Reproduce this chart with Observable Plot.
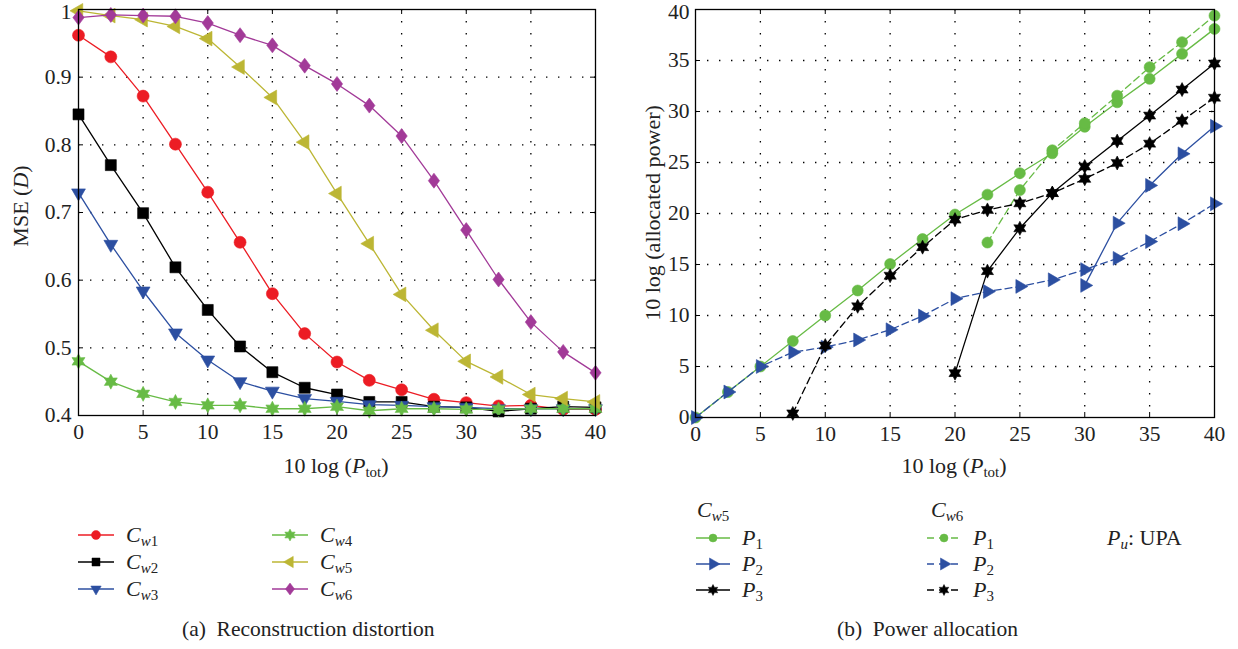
<!DOCTYPE html>
<html><head><meta charset="utf-8">
<script src="https://cdn.jsdelivr.net/npm/d3@7"></script>
<script src="https://cdn.jsdelivr.net/npm/@observablehq/plot@0.6"></script>
<style>
body{margin:0;background:#fff;font-family:"Liberation Serif","DejaVu Serif",serif;color:#222;}
#page{position:relative;width:1238px;height:649px;overflow:hidden;background:#fff;}
svg text{font-family:"Liberation Serif","DejaVu Serif",serif;}
.abs{position:absolute;white-space:nowrap;}
.row{position:absolute;display:flex;align-items:center;height:24px;white-space:nowrap;font-size:22px;}
.row svg{margin-right:12px;flex:none;}
sub{font-size:68%;vertical-align:-0.3em;line-height:0;}
.lab{font-size:22px;}
.cap{font-size:21.5px;}
</style></head><body><div id="page">
<div id="left" class="abs" style="left:0;top:0"></div>
<div id="right" class="abs" style="left:620px;top:0"></div>
</div>
<script>
// ---------- data ----------
const xVals = [0,2.5,5,7.5,10,12.5,15,17.5,20,22.5,25,27.5,30,32.5,35,37.5,40];
const xTicks = [0,5,10,15,20,25,30,35,40];
const yTicksA = [0.4,0.5,0.6,0.7,0.8,0.9,1];
const yTicksB = [0,5,10,15,20,25,30,35,40];

// (a) reconstruction distortion
const cw1 = [0.962,0.930,0.872,0.801,0.730,0.656,0.580,0.521,0.479,0.452,0.438,0.424,0.419,0.414,0.415,0.409,0.409];
const cw2 = [0.845,0.770,0.699,0.619,0.556,0.502,0.464,0.441,0.431,0.420,0.420,0.413,0.412,0.406,0.410,0.413,0.412];
const cw3 = [0.729,0.653,0.584,0.522,0.482,0.450,0.436,0.425,0.421,0.416,0.415,0.413,0.412,0.410,0.410,0.410,0.410];
const cw4 = [0.480,0.450,0.432,0.420,0.415,0.415,0.410,0.410,0.413,0.407,0.410,0.410,0.409,0.409,0.410,0.410,0.410];
const cw5 = [0.998,0.991,0.985,0.975,0.957,0.915,0.870,0.804,0.728,0.654,0.579,0.526,0.480,0.457,0.431,0.425,0.420];
const cw6 = [0.988,0.992,0.991,0.990,0.980,0.962,0.947,0.917,0.890,0.858,0.813,0.747,0.674,0.601,0.538,0.494,0.463];

// (b) power allocation (dB), null = not allocated
const p1cw5 = [0,2.5,5,7.5,10,12.45,15.05,17.5,19.9,21.85,23.95,25.9,28.5,30.9,33.2,35.65,38.1];
const p2cw5 = [null,null,null,null,null,null,null,null,null,null,null,null,12.95,19.05,22.75,25.85,28.55];
const p3cw5 = [null,null,null,null,null,null,null,null,4.35,14.35,18.55,22.0,24.6,27.1,29.6,32.15,34.7];
const p1cw6 = [null,null,null,null,null,null,null,null,null,17.15,22.3,26.2,28.85,31.55,34.35,36.8,39.4];
const p2cw6 = [0,2.5,5,6.4,6.9,7.6,8.6,9.95,11.65,12.35,12.85,13.5,14.5,15.6,17.25,19.0,20.95];
const p3cw6 = [null,null,null,0.4,7.05,10.9,13.9,16.7,19.4,20.35,21.0,22.0,23.4,24.95,26.85,29.1,31.35];

const RED="#ec1c24", BLACK="#000000", BLUE="#2c4fa1", GREEN="#67bb45", OLIVE="#bcb634", PURPLE="#a23a98";

// ---------- custom marker symbols ----------
function sym(kind, s){
  return {draw(ctx){
    const k=0.8660254;
    if(kind==="circle"){ctx.moveTo(s,0);ctx.arc(0,0,s,0,2*Math.PI);}
    else if(kind==="square"){ctx.rect(-s,-s,2*s,2*s);}
    else if(kind==="tdown"){ctx.moveTo(0,s);ctx.lineTo(-k*s,-0.5*s);ctx.lineTo(k*s,-0.5*s);}
    else if(kind==="tleft"){ctx.moveTo(-s,0);ctx.lineTo(0.5*s,-k*s);ctx.lineTo(0.5*s,k*s);}
    else if(kind==="tright"){ctx.moveTo(s,0);ctx.lineTo(-0.5*s,-k*s);ctx.lineTo(-0.5*s,k*s);}
    else if(kind==="diamond"){ctx.moveTo(0,-s);ctx.lineTo(0.75*s,0);ctx.lineTo(0,s);ctx.lineTo(-0.75*s,0);}
    else if(kind==="star"){
      for(let i=0;i<12;i++){const a=-Math.PI/2+i*Math.PI/6;const r=i%2?s*0.55:s;
        const px=r*Math.cos(a),py=r*Math.sin(a); i?ctx.lineTo(px,py):ctx.moveTo(px,py);}
    }
    ctx.closePath();
  }};
}

const FONT = '"Liberation Serif","DejaVu Serif",serif';
const rows = (ys) => xVals.map((x,i)=>({x, y: ys[i]})).filter(d=>d.y!=null);

function series(ys, color, kind, size, dash){
  const data = rows(ys);
  return [
    Plot.line(data,{x:"x",y:"y",stroke:color,strokeWidth:1.3,strokeDasharray:dash}),
    Plot.dot(data,{x:"x",y:"y",symbol:sym(kind,size),r:size,fill:color,stroke:color,strokeWidth:0.6})
  ];
}
function frameMarks(xt, yt, pw, ph){
  const g = {stroke:"#000",strokeOpacity:1,strokeWidth:1.3,strokeDasharray:"1.4,10.6"};
  const t = {stroke:"#000",strokeWidth:1};
  return [
    Plot.gridX(xt.slice(1,-1), g),
    Plot.gridY(yt.slice(1,-1), g),
    Plot.tickX(xt,{x:d=>d,...t,insetTop:ph-5}),
    Plot.tickX(xt,{x:d=>d,...t,insetBottom:ph-5}),
    Plot.tickY(yt,{y:d=>d,...t,insetRight:pw-5}),
    Plot.tickY(yt,{y:d=>d,...t,insetLeft:pw-5})
  ];
}
const TICKFS = 21.5;
// y-axis labels: the topmost one is nudged down a little so it stays inside the page
function yAxes(ticks, pad, fmt){
  const o = {tickSize:0,tickPadding:pad,label:null,fontSize:TICKFS,fontFamily:FONT};
  if(fmt) o.tickFormat = fmt;
  return [Plot.axisY(ticks.slice(0,-1), o), Plot.axisY(ticks.slice(-1), {...o, dy:3})];
}

// ---------- (a) ----------
const A = {w:610,h:480,ml:78,mr:15,mt:9,mb:65};
const plotA = Plot.plot({
  width:A.w,height:A.h,marginLeft:A.ml,marginRight:A.mr,marginTop:A.mt,marginBottom:A.mb,
  x:{domain:[0,40]}, y:{domain:[0.4,1]},
  style:{fontFamily:FONT,fontSize:TICKFS+"px",color:"#222",background:"white",overflow:"visible"},
  marks:[
    ...frameMarks(xTicks,yTicksA,A.w-A.ml-A.mr,A.h-A.mt-A.mb),
    Plot.axisX(xTicks,{tickSize:0,tickPadding:8,label:null,fontSize:TICKFS,fontFamily:FONT}),
    ...yAxes(yTicksA,7,d=>d===1?"1":d.toFixed(1)),
    ...series(cw1,RED,"circle",6),
    ...series(cw2,BLACK,"square",5.5),
    ...series(cw3,BLUE,"tdown",8),
    ...series(cw4,GREEN,"star",7.5),
    ...series(cw5,OLIVE,"tleft",8.5),
    ...series(cw6,PURPLE,"diamond",7.5),
    Plot.frame({stroke:"#000",strokeWidth:1.3})
  ]
});
document.getElementById("left").appendChild(plotA);

// ---------- (b) ----------
const B = {w:618,h:480,ml:75,mr:24,mt:9,mb:63};
const plotB = Plot.plot({
  width:B.w,height:B.h,marginLeft:B.ml,marginRight:B.mr,marginTop:B.mt,marginBottom:B.mb,
  x:{domain:[0,40]}, y:{domain:[0,40]},
  style:{fontFamily:FONT,fontSize:TICKFS+"px",color:"#222",background:"white",overflow:"visible"},
  marks:[
    ...frameMarks(xTicks,yTicksB,B.w-B.ml-B.mr,B.h-B.mt-B.mb),
    Plot.axisX(xTicks,{tickSize:0,tickPadding:8,label:null,fontSize:TICKFS,fontFamily:FONT}),
    ...yAxes(yTicksB,6),
    ...series(p1cw5,GREEN,"circle",5.5),
    ...series(p2cw5,BLUE,"tright",8),
    ...series(p3cw5,BLACK,"star",7),
    ...series(p1cw6,GREEN,"circle",5.5,"7,4"),
    ...series(p2cw6,BLUE,"tright",8,"7,4"),
    ...series(p3cw6,BLACK,"star",7,"7,4"),
    Plot.frame({stroke:"#000",strokeWidth:1.3})
  ]
});
document.getElementById("right").appendChild(plotB);

// ---------- labels, legends, captions ----------
const page = document.getElementById("page");
function addDiv(html, css, cls){
  const d=document.createElement("div"); d.className=cls||"abs"; d.innerHTML=html; d.style.cssText+=css; page.appendChild(d); return d;
}
const ptot = '10 log (<i>P</i><sub>tot</sub>)';
addDiv(ptot,"left:336px;top:466px;transform:translate(-50%,-50%);","abs lab");
addDiv(ptot,"left:954px;top:466px;transform:translate(-50%,-50%);","abs lab");
addDiv('MSE (<i>D</i>)',"left:21px;top:206px;transform:translate(-50%,-50%) rotate(-90deg);","abs lab");
addDiv('10 log (allocated power)',"left:653px;top:213px;transform:translate(-50%,-50%) rotate(-90deg);","abs lab");

function legSym(kind,size,color,dash,w){
  const d = d3.symbol(sym(kind,size))();
  return `<svg width="${w}" height="18"><line x1="0" x2="${w}" y1="9" y2="9" stroke="${color}" stroke-width="1.3" ${dash?`stroke-dasharray="${dash}"`:""}/><path transform="translate(${w/2},9)" d="${d}" fill="${color}" stroke="${color}" stroke-width="0.5"/></svg>`;
}
const span = h => `<span>${h}</span>`;
const legA = [
  {lab:'<i>C</i><sub><i>w</i>1</sub>',c:RED,k:"circle",s:4.5,x:78,y:535},
  {lab:'<i>C</i><sub><i>w</i>2</sub>',c:BLACK,k:"square",s:4,x:78,y:562},
  {lab:'<i>C</i><sub><i>w</i>3</sub>',c:BLUE,k:"tdown",s:6,x:78,y:589},
  {lab:'<i>C</i><sub><i>w</i>4</sub>',c:GREEN,k:"star",s:6,x:272,y:535},
  {lab:'<i>C</i><sub><i>w</i>5</sub>',c:OLIVE,k:"tleft",s:6.5,x:272,y:562},
  {lab:'<i>C</i><sub><i>w</i>6</sub>',c:PURPLE,k:"diamond",s:6,x:272,y:589}
];
legA.forEach(e=>addDiv(legSym(e.k,e.s,e.c,null,36)+span(e.lab),`left:${e.x}px;top:${e.y-12}px;`,"row"));

addDiv(span('<i>C</i><sub><i>w</i>5</sub>'),"left:697px;top:498px;","row");
addDiv(span('<i>C</i><sub><i>w</i>6</sub>'),"left:931px;top:498px;","row");
const legB = [
  {lab:'<i>P</i><sub>1</sub>',c:GREEN,k:"circle",s:4,x:696,y:538,d:null},
  {lab:'<i>P</i><sub>2</sub>',c:BLUE,k:"tright",s:7,x:696,y:564,d:null},
  {lab:'<i>P</i><sub>3</sub>',c:BLACK,k:"star",s:5.5,x:696,y:590,d:null},
  {lab:'<i>P</i><sub>1</sub>',c:GREEN,k:"circle",s:4,x:927,y:538,d:"7,5"},
  {lab:'<i>P</i><sub>2</sub>',c:BLUE,k:"tright",s:7,x:927,y:564,d:"7,5"},
  {lab:'<i>P</i><sub>3</sub>',c:BLACK,k:"star",s:5.5,x:927,y:590,d:"7,5"}
];
legB.forEach(e=>addDiv(legSym(e.k,e.s,e.c,e.d,34)+span(e.lab),`left:${e.x}px;top:${e.y-12}px;`,"row"));
addDiv(span('<i>P</i><sub><i>u</i></sub>: UPA'),"left:1107px;top:526px;","row");

addDiv('(a)&nbsp; Reconstruction distortion',"left:182px;top:617px;","abs cap");
addDiv('(b)&nbsp; Power allocation',"left:837px;top:617px;","abs cap");
</script>
</body></html>
